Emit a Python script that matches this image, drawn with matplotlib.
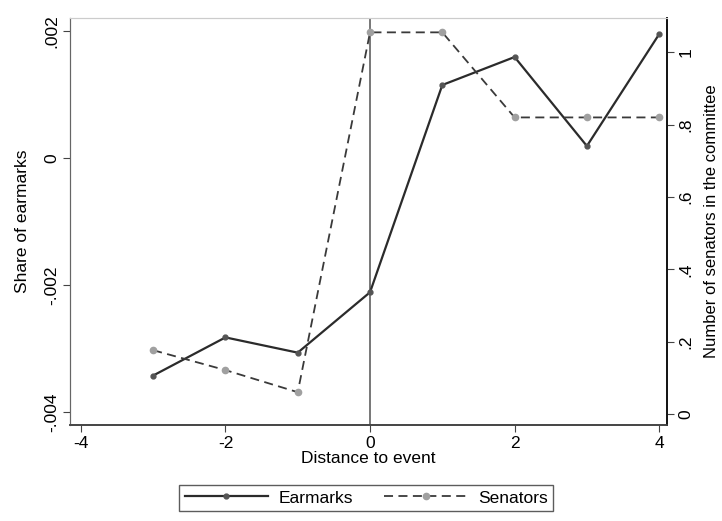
import numpy as np
import matplotlib
matplotlib.use("Agg")
import matplotlib.pyplot as plt
from matplotlib.lines import Line2D

plt.rcParams['font.family'] = ['Liberation Sans', 'DejaVu Sans']

# data
distance = [-3, -2, -1, 0, 1, 2, 3, 4]
earmarks = [-0.00342, -0.00282, -0.00306, -0.00211, 0.00115, 0.00159, 0.00019, 0.00195]
senators = [0.177, 0.122, 0.061, 1.055, 1.055, 0.82, 0.82, 0.82]

x_ticks = [-4, -2, 0, 2, 4]
left_ticks = [-0.004, -0.002, 0, 0.002]
left_labels = ['-.004', '-.002', '0', '.002']
right_ticks = [0, 0.2, 0.4, 0.6, 0.8, 1]
right_labels = ['0', '.2', '.4', '.6', '.8', '1']

fs = 12.5

fig = plt.figure(figsize=(7.22, 5.21), dpi=100)
ax = fig.add_axes([0.097, 0.184, 0.827, 0.781])
ax2 = ax.twinx()

# vertical line at the event
ax.axvline(0, color='#777777', lw=1.4, zorder=1)

# earmarks on the left axis
ax.plot(distance, earmarks, color='#2b2b2b', lw=1.6, marker='o', ms=3.5,
        mfc='#555555', mec='#555555', zorder=3)
# senators on the right axis
ax2.plot(distance, senators, color='#3a3a3a', lw=1.3, ls=(0, (5, 3)), marker='o',
         ms=4.5, mfc='#a0a0a0', mec='#a0a0a0', zorder=3)

ax.set_xlim(-4.15, 4.11)
ax.set_ylim(-0.0042, 0.0022)
ax2.set_ylim(-0.03, 1.094)

ax.set_xticks(x_ticks)
ax.set_xticklabels([str(t) for t in x_ticks])
ax.set_yticks(left_ticks)
ax.set_yticklabels(left_labels, rotation=90, va='center')
ax2.set_yticks(right_ticks)
ax2.set_yticklabels(right_labels, rotation=90, va='center')

ax.tick_params(labelsize=fs, color='#444444', length=5, pad=3)
ax2.tick_params(labelsize=fs, color='#444444', length=5, pad=3)

ax.set_xlabel('Distance to event', fontsize=fs, labelpad=0)
ax.set_ylabel('Share of earmarks', fontsize=fs)
ax2.set_ylabel('Number of senators in the committee', fontsize=12, rotation=90,
               va='center')
ax.yaxis.set_label_coords(-0.067, 0.5)
ax2.yaxis.set_label_coords(1.075, 0.5)

for a in (ax, ax2):
    a.spines['top'].set_color('#cccccc')
    a.spines['left'].set_color('#666666')
    a.spines['bottom'].set_color('#444444')
    a.spines['right'].set_color('#111111')
    a.spines['bottom'].set_linewidth(1.2)
    a.spines['right'].set_linewidth(1.2)

handles = [
    Line2D([], [], color='#2b2b2b', lw=1.6, marker='o', ms=3.5,
           mfc='#555555', mec='#555555'),
    Line2D([], [], color='#3a3a3a', lw=1.3, ls=(0, (5, 3)), marker='o', ms=4.5,
           mfc='#a0a0a0', mec='#a0a0a0'),
]
leg = fig.legend(handles, ['Earmarks', 'Senators'], loc='lower center',
                 bbox_to_anchor=(0.507, 0.003), ncol=2, fontsize=fs,
                 frameon=True, fancybox=False, handlelength=4.8,
                 handletextpad=0.6, columnspacing=1.8, borderpad=0.3)
leg.get_frame().set_edgecolor('#333333')
leg.get_frame().set_linewidth(1.0)

fig.savefig('out.png', dpi=100)
